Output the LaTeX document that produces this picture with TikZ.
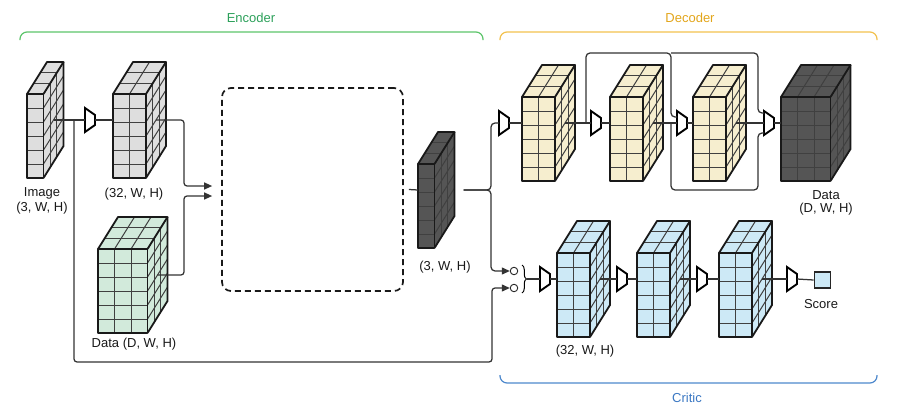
\documentclass[tikz,border=0pt]{standalone}
\usepackage{fontspec}
\setmainfont{Liberation Sans}
\usetikzlibrary{arrows.meta,decorations.pathreplacing,calc}

\definecolor{cubegray}{HTML}{DEDEDE}
\definecolor{cubegreen}{HTML}{D2EADB}
\definecolor{cubeyellow}{HTML}{F6EECF}
\definecolor{cubeblue}{HTML}{CDE9F6}
\definecolor{cubedark}{HTML}{555555}
\definecolor{encline}{HTML}{5CC46A}
\definecolor{enctext}{HTML}{2CA05A}
\definecolor{decline}{HTML}{F2C14E}
\definecolor{dectext}{HTML}{E2A51A}
\definecolor{critline}{HTML}{4D88CC}
\definecolor{crittext}{HTML}{3B78C3}

\tikzset{
  link/.style={draw=black!80, line width=1.25pt},
  arrowlink/.style={link, -{Triangle[length=8pt,width=7pt]}},
  convstyle/.style={draw=black, line width=1.9pt, fill=white, line join=miter},
  cubeedge/.style={draw=black!90, line width=1.8pt, line join=round},
  cubegrid/.style={draw=black!75, line width=1pt},
  dimtext/.style={font=\fontsize{13}{15}\selectfont, text=black!90, inner sep=0pt},
  coredash/.style={draw=black!90, line width=1.7pt, dash pattern=on 6pt off 4pt, rounded corners=9pt},
  group/.style={line width=1.2pt, rounded corners=7pt},
}

% feature block: name, x, y (front top-left), columns, fill
\newcommand{\featcube}[5]{%
  \pgfmathsetmacro{\cw}{#4*16.5}
  \begin{scope}[shift={(#2,#3)}]
    \fill[#5] (0,0) rectangle (\cw,84);
    \fill[#5] (0,0) -- (\cw,0) -- ++(20,-32) -- (20,-32) -- cycle;
    \fill[#5] (\cw,0) -- ++(20,-32) -- ++(0,84) -- (\cw,84) -- cycle;
    % front grid
    \foreach \i in {1,...,#4} \draw[cubegrid] (\i*16.5,0) -- (\i*16.5,84);
    \foreach \j in {1,...,5} \draw[cubegrid] (0,\j*14) -- (\cw,\j*14);
    % top grid
    \foreach \i in {1,...,#4} \draw[cubegrid] (\i*16.5,0) -- ++(20,-32);
    \foreach \k in {1,2} \draw[cubegrid] (\k*20/3,-\k*32/3) -- ++(\cw,0);
    % side grid
    \foreach \k in {1,2} \draw[cubegrid] (\cw+\k*20/3,-\k*32/3) -- ++(0,84);
    \foreach \j in {1,...,5} \draw[cubegrid] (\cw,\j*14) -- ++(20,-32);
    \draw[cubeedge] (0,0) rectangle (\cw,84);
    \draw[cubeedge] (0,0) -- (20,-32) -- (\cw+20,-32) -- (\cw,0);
    \draw[cubeedge] (\cw+20,-32) -- (\cw+20,52) -- (\cw,84);
    \coordinate (#1-w) at (0,26);
    \coordinate (#1-out) at (\cw+10,26);
    \coordinate (#1-e) at (\cw+20,26);
  \end{scope}
}

% conv op: name, x, y
\newcommand{\convop}[3]{%
  \draw[convstyle] (#2,#3-12) -- (#2+10,#3-5) -- (#2+10,#3+5) -- (#2,#3+12) -- cycle;
  \coordinate (#1-w) at (#2,#3);
  \coordinate (#1-e) at (#2+10,#3);
}

\begin{document}
\begin{tikzpicture}[x=1pt,y=-1pt]
  \useasboundingbox (0,0) rectangle (903,408);
  % groups
  \draw[group, draw=encline] (20,40) -- (20,32) -- (483,32) -- (483,40);
  \node[dimtext, text=enctext] (enc) at (251,18) {Encoder};
  \draw[group, draw=decline] (500,40) -- (500,32) -- (877,32) -- (877,40);
  \node[dimtext, text=dectext] (dec) at (690,18) {Decoder};
  \draw[group, draw=critline] (500,375) -- (500,383) -- (877,383) -- (877,375);
  \node[dimtext, text=crittext] (crit) at (687,398) {Critic};

  %%%%% Encoder
  \featcube{img}{27}{94}{1}{cubegray}
  \featcube{feat}{113}{94}{2}{cubegray}
  \featcube{data}{98}{249}{3}{cubegreen}
  \node[coredash, minimum width=181pt, minimum height=203pt] (core) at (312.5,189.5) {};
  \featcube{lat}{418}{164}{1}{cubedark}
  \node[dimtext] (imglbl) at (42,193) {Image};
  \node[dimtext] (imgdim) at (42,208) {(3, W, H)};
  \node[dimtext] (featdim) at (134,194) {(32, W, H)};
  \node[dimtext] (datadim) at (134,344) {Data (D, W, H)};
  \node[dimtext] (latdim) at (445,267) {(3, W, H)};

  %%%%% Decoder
  \featcube{dec1}{522}{97}{2}{cubeyellow}
  \featcube{dec2}{610}{97}{2}{cubeyellow}
  \featcube{dec3}{693}{97}{2}{cubeyellow}
  \featcube{out}{781}{97}{3}{cubedark}
  \node[dimtext] (outlbl) at (826,195) {Data};
  \node[dimtext] (outdim) at (826,209) {(D, W, H)};

  %%%%% Critic
  \featcube{crit1}{557}{253}{2}{cubeblue}
  \featcube{crit2}{637}{253}{2}{cubeblue}
  \featcube{crit3}{719}{253}{2}{cubeblue}
  \node[dimtext] (critdim) at (585,351) {(32, W, H)};
  \node[circle, draw=black!85, line width=0.9pt, inner sep=0pt, minimum size=7.5pt] (in1) at (514,271) {};
  \node[circle, draw=black!85, line width=0.9pt, inner sep=0pt, minimum size=7.5pt] (in2) at (514,288) {};
  \node[draw=black!85, line width=1.6pt, fill=cubeblue, minimum size=16pt, inner sep=0pt] (score) at (822.5,280) {};
  \node[dimtext] (scorelbl) at (821,304) {Score};

  % conv ops
  \convop{c0}{85}{120}
  \convop{t1}{499}{123}
  \convop{t2}{591}{123}
  \convop{t3}{677}{123}
  \convop{t4}{764}{123}
  \convop{k0}{540}{279}
  \convop{k1}{617}{279}
  \convop{k2}{697}{279}
  \convop{k3}{787}{279}

  % helper points
  \coordinate (imgsplit) at (74,120);
  \coordinate (corein1) at ($(core.west)+(-9,-3.5)$);
  \coordinate (corein2) at ($(core.west)+(-9,6.5)$);
  \coordinate (coreout) at ($(core.east)+(5,0)$);
  \coordinate (latsplit) at ($(lat-e)+(9,0)$);
  \coordinate (mergetip) at (527,279);
  \coordinate (skipA) at (586,123);
  \coordinate (skipB) at (671,123);

  % encoder links
  \draw[link] (img-out) -- (c0-w);
  \draw[link] (c0-e) -- (feat-w);
  \draw[arrowlink, rounded corners=3pt] (feat-out) -- (184,120) |- (corein1);
  \draw[arrowlink, rounded corners=3pt] (data-out) -- (184,275) |- (corein2);
  \draw[link] (coreout) -- (lat-w);
  \draw[arrowlink, rounded corners=3pt] (imgsplit) |- (492,362) |- (in2.west);
  % split to decoder and critic
  \draw[link, rounded corners=4pt] (latsplit) -- (491,190) |- (t1-w);
  \draw[arrowlink, rounded corners=4pt] (latsplit) -- (491,190) |- (in1.west);
  \draw[decorate, decoration={brace, amplitude=4.5pt}, line width=1pt] (522,265) -- (522,293);

  % decoder links
  \draw[link] (t1-e) -- (dec1-w);
  \draw[link] (dec1-out) -- (t2-w);
  \draw[link] (t2-e) -- (dec2-w);
  \draw[link] (dec2-out) -- (t3-w);
  \draw[link] (t3-e) -- (dec3-w);
  \draw[link] (dec3-out) -- (t4-w);
  \draw[link] (t4-e) -- (out-w);
  % skips
  \draw[link, rounded corners=4pt] (skipA) |- (671,53) |- ($(t3-w)+(0,-6)$);
  \draw[link, rounded corners=4pt] (671,53) -- (758,53) |- ($(t4-w)+(0,-10)$);
  \draw[link, rounded corners=4pt] (skipB) |- (758,190) |- ($(t4-w)+(0,10)$);

  % critic links
  \draw[link] (mergetip) -- (k0-w);
  \draw[link] (k0-e) -- (crit1-w);
  \draw[link] (crit1-out) -- (k1-w);
  \draw[link] (k1-e) -- (crit2-w);
  \draw[link] (crit2-out) -- (k2-w);
  \draw[link] (k2-e) -- (crit3-w);
  \draw[link] (crit3-out) -- (k3-w);
  \draw[link] (k3-e) -- (score.west);
\end{tikzpicture}
\end{document}
